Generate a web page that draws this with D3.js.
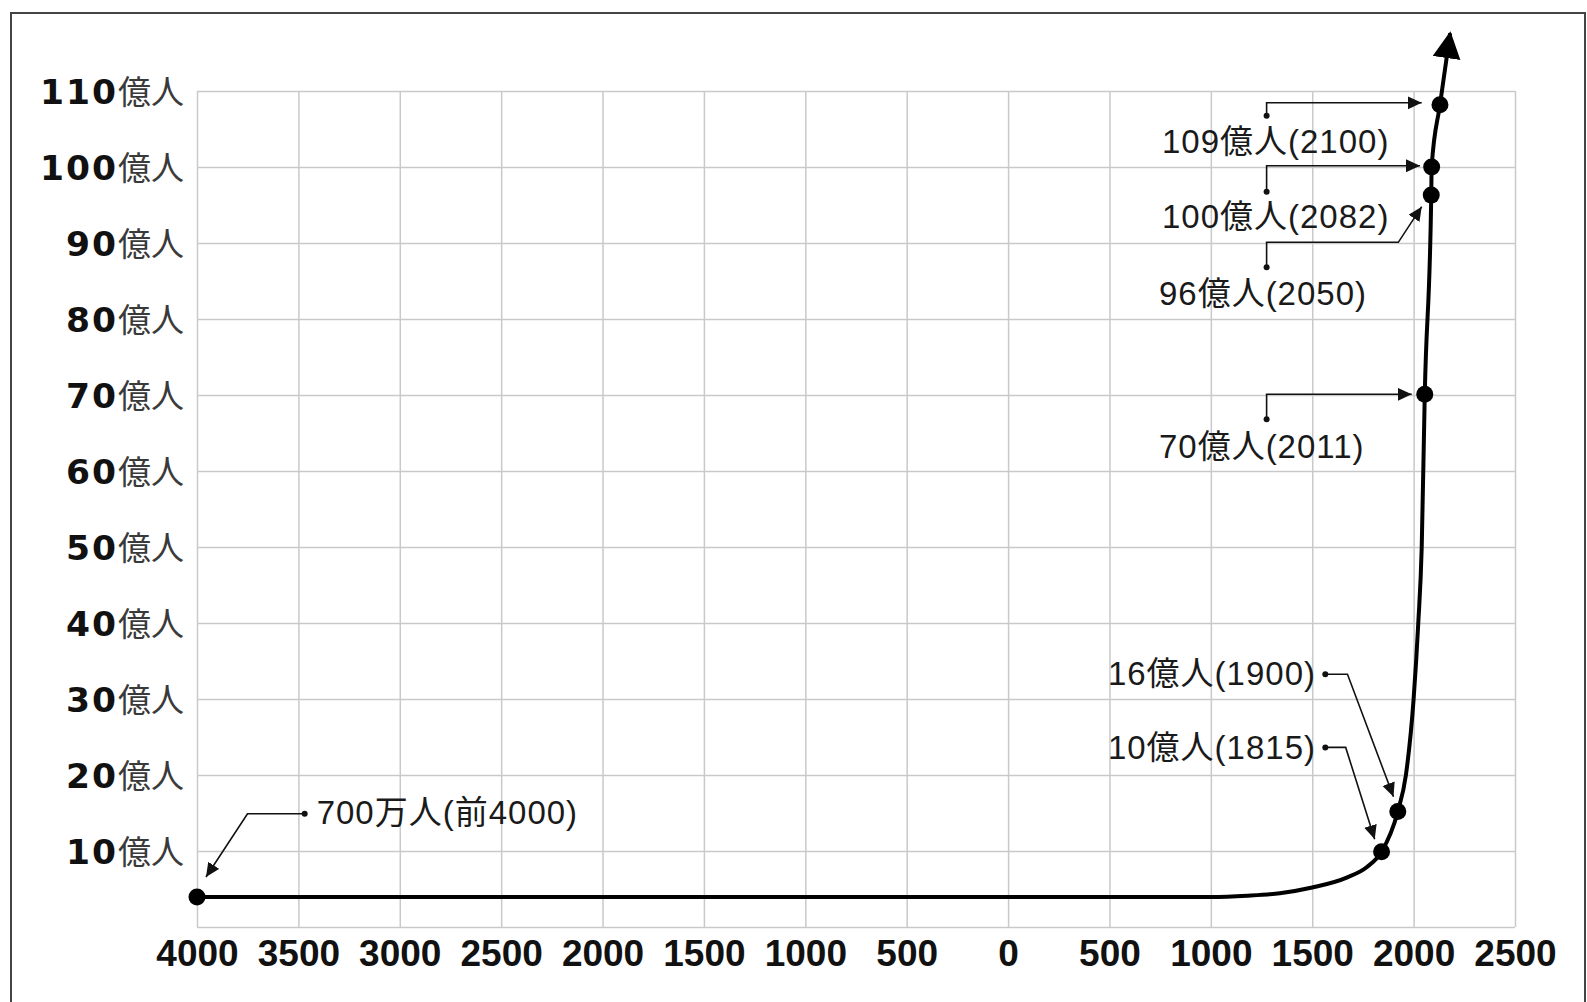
<!DOCTYPE html>
<html lang="ja">
<head>
<meta charset="utf-8">
<script src="https://cdn.jsdelivr.net/npm/d3@7"></script>
<style>
  html, body { margin: 0; padding: 0; background: #fff; }
  svg { display: block; }
  .grid line { stroke: #c9c9c9; stroke-width: 1.5; }
  .grid path { display: none; }
  .axis path { display: none; }
  .note-text { font-family: 'Liberation Sans', 'Noto Sans CJK JP', sans-serif; font-size: 33px; letter-spacing: 1px; fill: #1a1a1a; }
</style>
</head>
<body>
<div id="chart"></div>
<script>
// ---- data ----
const yearTicks = [-4000, -3500, -3000, -2500, -2000, -1500, -1000, -500, 0, 500, 1000, 1500, 2000, 2500];
const popTicks = [10, 20, 30, 40, 50, 60, 70, 80, 90, 100, 110];
const popUnit = "億人";

// curve as it is drawn (year, 億人)
const curveYears  = [-4000, 1000, 1180, 1340, 1500, 1670, 1770, 1842, 1922, 1962, 2000, 2023, 2040, 2055, 2087, 2089, 2130, 2180];
const curveValues = [3.95, 3.95, 4.12, 4.45, 5.2, 6.5, 7.9, 9.9, 15.2, 20, 30, 40, 50, 70.1, 96.3, 100, 108.2, 117.6];

// highlighted points
const pointYears  = [-4000, 1842, 1922, 2055, 2087, 2089, 2130];
const pointValues = [3.95, 9.9, 15.2, 70.1, 96.3, 100, 108.2];

const noteLabels = ["700万人(前4000)", "10億人(1815)", "16億人(1900)", "70億人(2011)", "96億人(2050)", "100億人(2082)", "109億人(2100)"];

// ---- layout ----
const W = 1587, H = 1002;
const margin = {top: 91, right: 72, bottom: 75, left: 197};

// where each note sits, in data units (label anchor + leader path)
const noteLayout = [
    {anchor: "start", at: [-3410, 13.5],  path: [[-3469, 14.9], [-3751, 14.9], [-3955.6, 6.58]]},
    {anchor: "end",   at: [1518.6, 22.1], path: [[1564.5, 23.63], [1665, 23.63], [1808, 11.55]]},
    {anchor: "end",   at: [1518.6, 31.84], path: [[1564.5, 33.25], [1673.8, 33.25], [1900.8, 17.13]]},
    {anchor: "start", at: [744, 61.7],    path: [[1275, 66.8], [1275, 70.09], [1990.5, 70.09]]},
    {anchor: "start", at: [744, 81.84],   path: [[1275, 86.8], [1275, 90.09], [1924.5, 90.09], [2040, 94.78]]},
    {anchor: "start", at: [759, 91.97],   path: [[1275, 96.75], [1275, 100.17], [2031.5, 100.17]]},
    {anchor: "start", at: [759, 101.8],   path: [[1275, 106.75], [1275, 108.45], [2040, 108.45]]}
];

let svg = d3.select("#chart").append("svg")
    .attr("width", W)
    .attr("height", H);

// outer frame (runs past the bottom edge)
svg.append("rect")
    .attr("x", 11).attr("y", 13)
    .attr("width", 1574).attr("height", 1010)
    .attr("fill", "none")
    .attr("stroke", "#444")
    .attr("stroke-width", 2);

let x = d3.scaleLinear()
    .domain([-4000, 2500])
    .range([margin.left, W - margin.right]);

let y = d3.scaleLinear()
    .domain([0, 110])
    .range([H - margin.bottom, margin.top]);

let defs = svg.append("defs");
defs.append("marker")
    .attr("id", "bigArrow")
    .attr("markerUnits", "userSpaceOnUse")
    .attr("markerWidth", 30).attr("markerHeight", 30)
    .attr("refX", 25).attr("refY", 14)
    .attr("orient", "auto")
    .append("path")
    .attr("d", "M0,0 L27,14 L0,28 Z")
    .attr("fill", "#000");
defs.append("marker")
    .attr("id", "smallArrow")
    .attr("markerUnits", "userSpaceOnUse")
    .attr("markerWidth", 16).attr("markerHeight", 16)
    .attr("refX", 14).attr("refY", 6.5)
    .attr("orient", "auto")
    .append("path")
    .attr("d", "M0,0 L14,6.5 L0,13 Z")
    .attr("fill", "#111");

// grid
svg.append("g")
    .attr("class", "grid")
    .attr("transform", `translate(0, ${y(0)})`)
    .call(d3.axisBottom(x).tickValues(yearTicks).tickSize(-(y(0) - y(110))).tickFormat(""));

svg.append("g")
    .attr("class", "grid")
    .attr("transform", `translate(${x(-4000)}, 0)`)
    .call(d3.axisLeft(y).tickValues([0].concat(popTicks)).tickSize(-(x(2500) - x(-4000))).tickFormat(""));

// x axis labels
let xAxisGroup = svg.append("g")
    .attr("class", "axis")
    .attr("transform", `translate(0, ${y(0)})`)
    .call(d3.axisBottom(x).tickValues(yearTicks).tickSize(0).tickPadding(13).tickFormat(d => Math.abs(d)));
xAxisGroup.selectAll("text")
    .attr("font-family", "'Liberation Sans', Arial, sans-serif")
    .attr("font-weight", "bold")
    .attr("font-size", 37)
    .attr("fill", "#111");

// y axis labels: bold number + unit
let yAxisGroup = svg.append("g")
    .attr("class", "axis")
    .attr("transform", `translate(${x(-4000)}, 0)`)
    .call(d3.axisLeft(y).tickValues(popTicks).tickSize(0).tickPadding(13));
yAxisGroup.selectAll("text")
    .attr("font-size", 34)
    .attr("dy", "0.36em")
    .text(null)
    .each(function(d) {
        let t = d3.select(this);
        t.append("tspan")
            .attr("font-family", "'DejaVu Sans', sans-serif")
            .attr("font-weight", "bold")
            .attr("font-size", 34.5)
            .attr("letter-spacing", 2)
            .attr("fill", "#111")
            .text(d);
        t.append("tspan")
            .attr("font-family", "'Noto Sans CJK JP', sans-serif")
            .attr("font-size", 33)
            .attr("fill", "#3a3a3a")
            .text(popUnit);
    });

// population curve
let curveData = curveYears.map((yr, i) => [yr, curveValues[i]]);
let line = d3.line()
    .x(d => x(d[0]))
    .y(d => y(d[1]))
    .curve(d3.curveMonotoneX);

svg.append("path")
    .datum(curveData)
    .attr("d", line)
    .attr("fill", "none")
    .attr("stroke", "#000")
    .attr("stroke-width", 4)
    .attr("stroke-linejoin", "round")
    .attr("marker-end", "url(#bigArrow)");

svg.selectAll(".point")
    .data(pointYears.map((yr, i) => [yr, pointValues[i]]))
    .enter()
    .append("circle")
    .attr("class", "point")
    .attr("cx", d => x(d[0]))
    .attr("cy", d => y(d[1]))
    .attr("r", 8.5)
    .attr("fill", "#000");

// notes
let notes = svg.selectAll(".note")
    .data(noteLabels.map((label, i) => Object.assign({label: label}, noteLayout[i])))
    .enter()
    .append("g")
    .attr("class", "note");

notes.append("path")
    .attr("d", d => d3.line().x(p => x(p[0])).y(p => y(p[1]))(d.path))
    .attr("fill", "none")
    .attr("stroke", "#111")
    .attr("stroke-width", 1.6)
    .attr("marker-end", "url(#smallArrow)");

notes.append("circle")
    .attr("cx", d => x(d.path[0][0]))
    .attr("cy", d => y(d.path[0][1]))
    .attr("r", 3)
    .attr("fill", "#111");

notes.append("text")
    .attr("class", "note-text")
    .attr("x", d => x(d.at[0]))
    .attr("y", d => y(d.at[1]))
    .attr("text-anchor", d => d.anchor)
    .text(d => d.label);
</script>
</body>
</html>
